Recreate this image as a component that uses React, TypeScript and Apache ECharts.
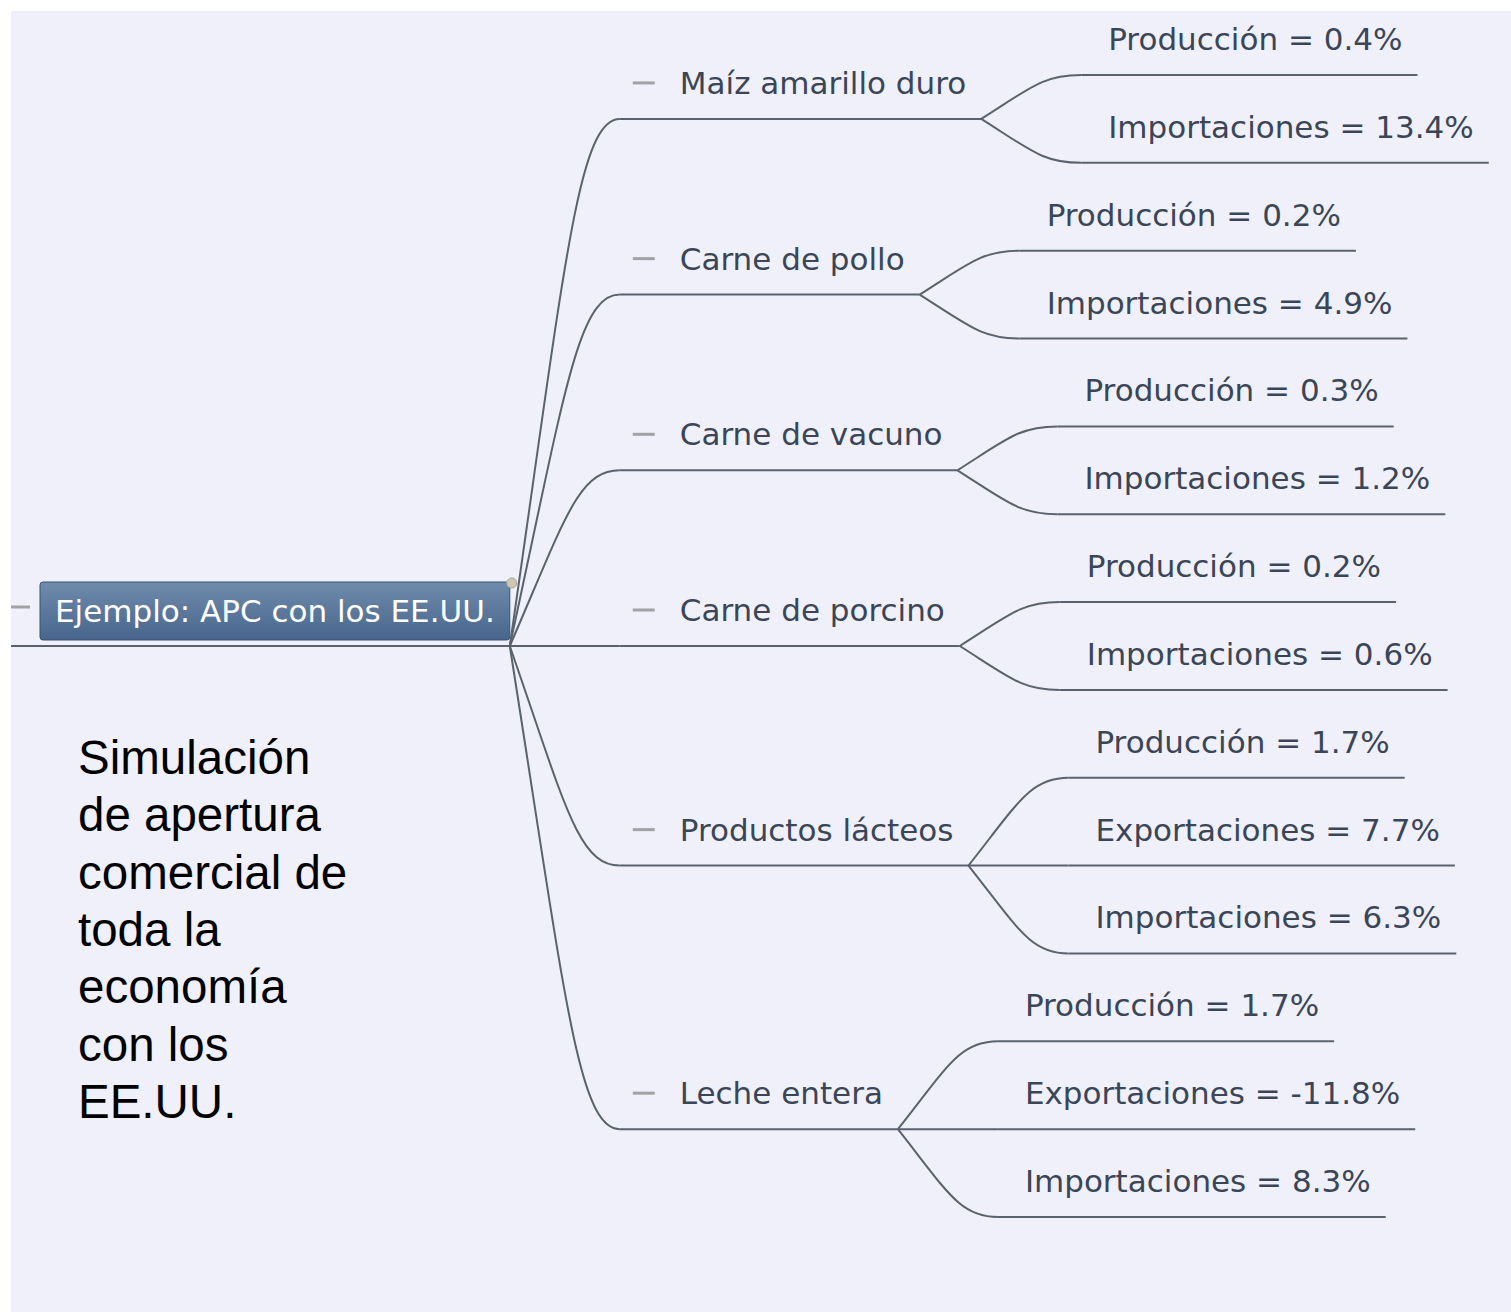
import React, { useEffect, useRef } from "react";
import * as echarts from "echarts";

// ---------- data ----------
const ROOT_LABEL = "Ejemplo: APC con los EE.UU.";
const CATEGORIES = [
  "Maíz amarillo duro",
  "Carne de pollo",
  "Carne de vacuno",
  "Carne de porcino",
  "Productos lácteos",
  "Leche entera",
];
const LEAF_NAMES = [
  ["Producción", "Importaciones"],
  ["Producción", "Importaciones"],
  ["Producción", "Importaciones"],
  ["Producción", "Importaciones"],
  ["Producción", "Exportaciones", "Importaciones"],
  ["Producción", "Exportaciones", "Importaciones"],
];
const LEAF_VALUES = [
  [0.4, 13.4],
  [0.2, 4.9],
  [0.3, 1.2],
  [0.2, 0.6],
  [1.7, 7.7, 6.3],
  [1.7, -11.8, 8.3],
];
const NOTE_LINES = [
  "Simulación",
  "de apertura",
  "comercial de",
  "toda la",
  "economía",
  "con los",
  "EE.UU.",
];

// ---------- style ----------
const W = 1511;
const H = 1312;
const NODE_FONT_SIZE = 31;
const NODE_FONT_FAMILY = "'DejaVu Sans', Verdana, sans-serif";
const TEXT_COLOR = "#3a4657";
const LINE_COLOR = "#5a626e";
const DASH_COLOR = "#a2a2a6";

function measure(text: string): number {
  const ctx = document.createElement("canvas").getContext("2d")!;
  ctx.font = `${NODE_FONT_SIZE}px ${NODE_FONT_FAMILY}`;
  return ctx.measureText(text).width;
}

type Node = {
  kind: "root" | "cat" | "leaf";
  label: string;
  row: number;
  textX: number;
  lineStart: number;
  lineEnd: number;
  parentX: number;
  parentRow: number;
};

function buildNodes(): { nodes: Node[]; nLeaves: number } {
  let r = 0;
  const leafRows = LEAF_VALUES.map((vals) => vals.map(() => r++));
  const nLeaves = r;
  const rootRow = (nLeaves - 1) / 2;
  const ROOT_BOX_X = 40;
  const ROOT_PAD = 15;
  const rootAnchor = ROOT_BOX_X + measure(ROOT_LABEL) + 2 * ROOT_PAD;
  const nodes: Node[] = [];
  nodes.push({
    kind: "root",
    label: ROOT_LABEL,
    row: rootRow,
    textX: ROOT_BOX_X,
    lineStart: 11,
    lineEnd: rootAnchor,
    parentX: rootAnchor,
    parentRow: rootRow,
  });
  CATEGORIES.forEach((cat, ci) => {
    const rows = leafRows[ci];
    const row = rows.reduce((a, b) => a + b, 0) / rows.length;
    const textX = rootAnchor + 170;
    const lineEnd = textX + measure(cat) + 15;
    nodes.push({
      kind: "cat",
      label: cat,
      row,
      textX,
      lineStart: rootAnchor + 110,
      lineEnd,
      parentX: rootAnchor,
      parentRow: rootRow,
    });
    rows.forEach((lr, li) => {
      const v = LEAF_VALUES[ci][li];
      const label = `${LEAF_NAMES[ci][li]} = ${v.toFixed(1)}%`;
      const tX = lineEnd + 127;
      nodes.push({
        kind: "leaf",
        label,
        row: lr,
        textX: tX,
        lineStart: lineEnd + 100,
        lineEnd: tX + measure(label) + 15,
        parentX: lineEnd,
        parentRow: row,
      });
    });
  });
  return { nodes, nLeaves };
}

export default function App() {
  const ref = useRef<HTMLDivElement>(null);

  useEffect(() => {
    document.body.style.margin = "0";
    const chart = echarts.init(ref.current!, undefined, { renderer: "svg" });
    const { nodes, nLeaves } = buildNodes();

    const lineStyle = { stroke: LINE_COLOR, lineWidth: 2, fill: "none" };

    const renderItem = (params: any, api: any) => {
      const n = nodes[params.dataIndex];
      const [sx, sy] = api.coord([api.value(0), api.value(1)]);
      const [ex] = api.coord([api.value(2), api.value(1)]);
      const [tx] = api.coord([api.value(5), api.value(1)]);
      const children: any[] = [];

      if (n.kind !== "root") {
        const [px, py] = api.coord([api.value(3), api.value(4)]);
        const w = sx - px;
        const dy = sy - py;
        children.push({
          type: "bezierCurve",
          shape: {
            x1: px,
            y1: py,
            cpx1: px + 0.5 * w,
            cpy1: py + 0.72 * dy,
            cpx2: px + 0.62 * w,
            cpy2: sy,
            x2: sx,
            y2: sy,
          },
          style: lineStyle,
        });
      }
      children.push({
        type: "line",
        shape: { x1: sx, y1: sy, x2: ex, y2: sy },
        style: lineStyle,
      });

      if (n.kind === "root") {
        const boxTop = sy - 64;
        children.push({
          type: "line",
          shape: { x1: sx, y1: sy - 39, x2: sx + 19, y2: sy - 39 },
          style: { stroke: DASH_COLOR, lineWidth: 3 },
        });
        children.push({
          type: "rect",
          shape: { x: tx, y: boxTop, width: ex - tx, height: 58, r: 3 },
          style: {
            fill: new echarts.graphic.LinearGradient(0, 0, 0, 1, [
              { offset: 0, color: "#6f8cac" },
              { offset: 1, color: "#48658d" },
            ]),
            stroke: "#3a5273",
            lineWidth: 1,
          },
        });
        children.push({
          type: "text",
          x: (tx + ex) / 2,
          y: boxTop + 29,
          style: {
            text: n.label,
            fill: "#ffffff",
            fontSize: NODE_FONT_SIZE,
            fontFamily: NODE_FONT_FAMILY,
            align: "center",
            verticalAlign: "middle",
          },
        });
        children.push({
          type: "circle",
          shape: { cx: ex + 2, cy: boxTop + 1, r: 5 },
          style: { fill: "#cdc6b2", stroke: "#a9a59b", lineWidth: 1 },
        });
      } else {
        if (n.kind === "cat") {
          children.push({
            type: "line",
            shape: { x1: tx - 47, y1: sy - 36, x2: tx - 25, y2: sy - 36 },
            style: { stroke: DASH_COLOR, lineWidth: 3 },
          });
        }
        children.push({
          type: "text",
          x: tx,
          y: sy - 36,
          style: {
            text: n.label,
            fill: TEXT_COLOR,
            fontSize: NODE_FONT_SIZE,
            fontFamily: NODE_FONT_FAMILY,
            align: "left",
            verticalAlign: "middle",
          },
        });
      }
      return { type: "group", children };
    };

    const option: any = {
      animation: false,
      backgroundColor: "#ffffff",
      title: {
        text: NOTE_LINES.join("\n"),
        left: 78,
        top: 729,
        padding: 0,
        textStyle: {
          fontFamily: "'Liberation Sans', Arial, sans-serif",
          fontSize: 47.5,
          fontWeight: "normal",
          color: "#000000",
          lineHeight: 57.3,
        },
      },
      graphic: [
        {
          type: "rect",
          left: 11,
          top: 11,
          z: -10,
          shape: { width: W - 11, height: H - 11 },
          style: { fill: "#f0f0fb" },
        },
      ],
      grid: { left: 0, right: 0, top: 75, bottom: 95 },
      xAxis: { type: "value", min: 0, max: W, show: false },
      yAxis: {
        type: "value",
        min: 0,
        max: nLeaves - 1,
        inverse: true,
        show: false,
      },
      series: [
        {
          type: "custom",
          clip: false,
          renderItem,
          data: nodes.map((n) => [
            n.lineStart,
            n.row,
            n.lineEnd,
            n.parentX,
            n.parentRow,
            n.textX,
          ]),
        },
      ],
    };
    chart.setOption(option);
    return () => chart.dispose();
  }, []);

  return <div ref={ref} style={{ width: W, height: H }} />;
}
